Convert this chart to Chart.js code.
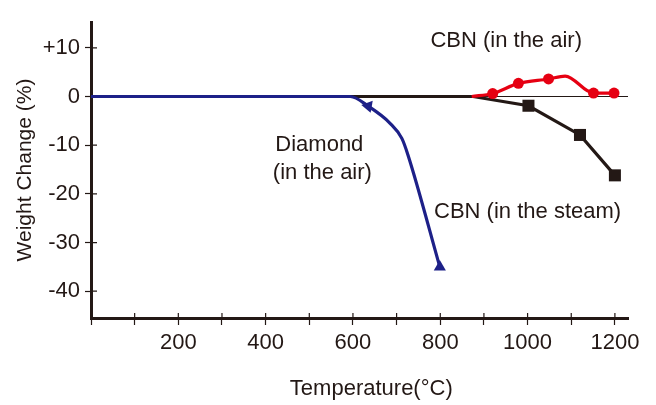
<!DOCTYPE html>
<html>
<head>
<meta charset="utf-8">
<script src="https://cdn.jsdelivr.net/npm/chart.js@4"></script>
<style>
  html, body { margin: 0; padding: 0; background: #fff; }
  canvas { display: block; }
</style>
</head>
<body>
<canvas id="chart" width="656" height="405"></canvas>
<script>
// Temperature (°C) vs weight change (%)
const diamondAirT   = [0, 594, 635, 685, 712, 726, 799];
const diamondAirW   = [0, 0, -2.0, -5.5, -8.6, -12.0, -35.0];
const diamondMarks  = [0, 0, 1, 0, 0, 0, 1];

const cbnSteamT     = [0, 875, 1002, 1120, 1200];
const cbnSteamW     = [0, 0, -1.9, -7.9, -16.2];
const cbnSteamMarks = [0, 0, 1, 1, 1];

const cbnAirT       = [872, 920, 979, 1048, 1086, 1151, 1198];
const cbnAirW       = [0, 0.6, 2.7, 3.6, 4.2, 0.7, 0.7];
const cbnAirMarks   = [0, 1, 1, 1, 0, 1, 1];

const xTicks    = [0, 100, 200, 300, 400, 500, 600, 700, 800, 900, 1000, 1100, 1200];
const xLabelled = [200, 400, 600, 800, 1000, 1200];
const yTicks    = [-40, -30, -20, -10, 0, 10];

const notes = [
  { text: 'CBN (in the air)',   t: 951, w: 11.5 },
  { text: 'Diamond',            t: 523, w: -10.0 },
  { text: '(in the air)',       t: 530, w: -15.7 },
  { text: 'CBN (in the steam)', t: 1000, w: -23.7 }
];

const ink = '#231815';
Chart.defaults.font.family = '"Liberation Sans", Arial, Helvetica, sans-serif';
Chart.defaults.color = ink;

const toPoints = (xs, ys) => xs.map((x, i) => ({ x, y: ys[i] }));

// inner halves of the tick marks, annotations and the x title
const extras = {
  id: 'extras',
  beforeDatasetsDraw(chart) {
    const { ctx, scales: { x, y } } = chart;
    ctx.save();
    ctx.strokeStyle = ink;
    ctx.lineWidth = 1.2;
    ctx.beginPath();
    yTicks.forEach(v => {
      const py = y.getPixelForValue(v);
      ctx.moveTo(x.left, py);
      ctx.lineTo(x.left + 6, py);
    });
    xTicks.forEach(v => {
      const px = x.getPixelForValue(v);
      ctx.moveTo(px, y.bottom);
      ctx.lineTo(px, y.bottom - 5);
    });
    ctx.stroke();
    ctx.restore();
  },
  afterDraw(chart) {
    const { ctx, scales: { x, y } } = chart;
    ctx.save();
    ctx.fillStyle = ink;
    ctx.textAlign = 'center';
    ctx.textBaseline = 'middle';
    ctx.font = '22px ' + Chart.defaults.font.family;
    notes.forEach(n => ctx.fillText(n.text, x.getPixelForValue(n.t), y.getPixelForValue(n.w)));
    ctx.fillText('Temperature(°C)', x.getPixelForValue(642), x.bottom - 16);
    ctx.restore();
  }
};

new Chart(document.getElementById('chart'), {
  type: 'line',
  data: {
    datasets: [
      {
        label: 'Diamond (in the air)',
        data: toPoints(diamondAirT, diamondAirW),
        borderColor: '#1d2088', backgroundColor: '#1d2088',
        borderWidth: 3.2, cubicInterpolationMode: 'monotone',
        pointStyle: 'triangle',
        pointRadius: diamondMarks.map(m => m ? 7 : 0),
        pointRotation: [0, 0, 160, 0, 0, 0, 0],
        pointBorderWidth: 0, order: 0
      },
      {
        label: 'CBN (in the air)',
        data: toPoints(cbnAirT, cbnAirW),
        borderColor: '#e60012', backgroundColor: '#e60012',
        borderWidth: 3.2, cubicInterpolationMode: 'monotone',
        pointStyle: 'circle',
        pointRadius: cbnAirMarks.map(m => m ? 5.5 : 0),
        pointBorderWidth: 0, order: 1
      },
      {
        label: 'CBN (in the steam)',
        data: toPoints(cbnSteamT, cbnSteamW),
        borderColor: ink, backgroundColor: ink,
        borderWidth: 3.2, tension: 0,
        pointStyle: 'rect',
        pointRadius: cbnSteamMarks.map(m => m ? 8.5 : 0),
        pointBorderWidth: 0, order: 2
      }
    ]
  },
  options: {
    responsive: false,
    animation: false,
    layout: { padding: { top: 22, right: 28, left: 0, bottom: 0 } },
    plugins: { legend: { display: false }, tooltip: { enabled: false } },
    elements: { point: { hoverRadius: 0 } },
    scales: {
      x: {
        type: 'linear', min: 0, max: 1230,
        afterBuildTicks: s => { s.ticks = xTicks.map(value => ({ value })); },
        afterFit: s => { s.height = 87; },
        border: { color: ink, width: 3 },
        grid: { drawOnChartArea: false, color: ink, tickColor: ink, tickLength: 7, tickWidth: 1.2 },
        ticks: {
          autoSkip: false, maxRotation: 0, padding: 5,
          font: { size: 22 }, color: ink,
          callback: v => xLabelled.includes(v) ? String(v) : ''
        }
      },
      y: {
        type: 'linear', min: -45.5, max: 15.3,
        afterBuildTicks: s => { s.ticks = yTicks.map(value => ({ value })); },
        afterFit: s => { s.width = 91; },
        border: { color: ink, width: 3 },
        grid: {
          color: c => c.tick && c.tick.value === 0 ? ink : 'rgba(0,0,0,0)',
          lineWidth: 1, tickColor: ink, tickLength: 6, tickWidth: 1.2
        },
        ticks: {
          padding: 5, font: { size: 22 }, color: ink,
          callback: v => v > 0 ? '+' + v : String(v)
        },
        title: {
          display: true, text: 'Weight Change (%)', color: ink,
          font: { size: 21 }, padding: { top: 13 }
        }
      }
    }
  },
  plugins: [extras]
});
</script>
</body>
</html>
